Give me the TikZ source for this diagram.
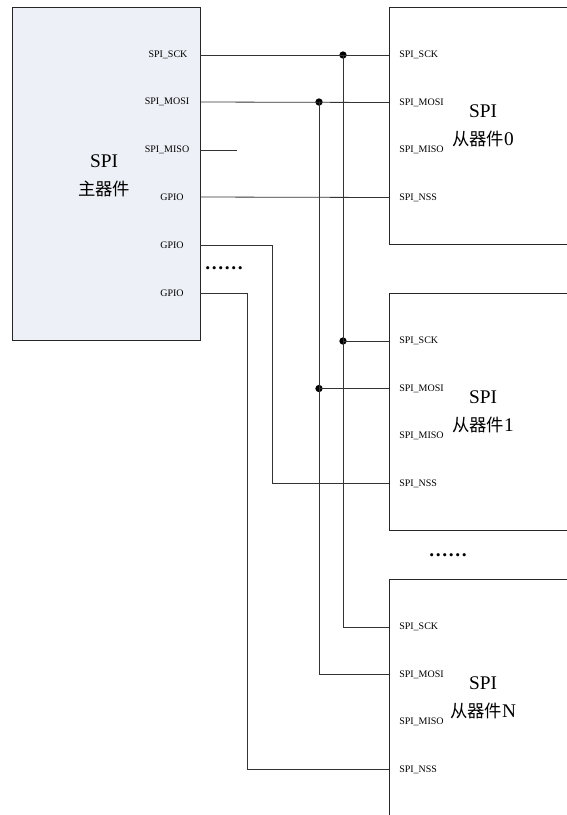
\documentclass[tikz,border=0pt]{standalone}
\usepackage{fontspec}
\setmainfont{Liberation Serif}
\newfontfamily\cjkfont{Noto Sans CJK SC}
\usetikzlibrary{positioning}

\definecolor{masterfill}{RGB}{237,240,246}

\begin{document}
\begin{tikzpicture}[
    x=0.75pt, y=-0.75pt,
    every node/.style={font=\fontsize{7.5pt}{9pt}\selectfont},
    chip/.style={rectangle, draw=black!85, line width=0.6pt, inner sep=0pt, anchor=north west},
    pinlabel/.style={inner sep=0pt},
    title/.style={font=\fontsize{14.5pt}{21pt}\selectfont, align=center},
    dots/.style={font=\fontsize{14.5pt}{17pt}\selectfont\bfseries, inner sep=0pt},
    wire/.style={draw=black!80, line width=0.6pt},
    junction/.style={circle, fill=black, inner sep=0pt, minimum size=5.5pt}
]
    \useasboundingbox (0,0) rectangle (567,815);
    \clip (0,0) rectangle (567,815);

    % master device
    \node (master) [chip, fill=masterfill, minimum width=141pt, minimum height=249.75pt] at (12,7) {};
    \node (master-title) [title] at (104,176) {SPI\\{\cjkfont\fontsize{13pt}{21pt}\selectfont 主器件}};
    \foreach \p/\y/\lx/\txt in {sck/55/168/SPI\_SCK, mosi/102/167/SPI\_MOSI, miso/150/167/SPI\_MISO,
                                gpio0/197/172/GPIO, gpio1/245/172/GPIO, gpio2/293/172/GPIO} {
        \coordinate (master-\p) at (200,\y);
        \node (master-\p-lab) [pinlabel] at (\lx,\y) {\txt};
    }
    \coordinate (miso-end) at (237,150);
    \node (master-dots) [dots] at (224,268) {……};

    % slave devices
    \foreach \s/\top in {0/7, 1/293, N/579} {
        \node (slave\s) [chip, minimum width=150pt, minimum height=178pt] at (389,\top) {};
        \node (slave\s-title) [title] at (483,\top+119) {SPI\\{\cjkfont\fontsize{13pt}{21pt}\selectfont 从器件}\s};
        \foreach \p/\dy/\txt in {sck/48/SPI\_SCK, mosi/95.5/SPI\_MOSI, miso/143/SPI\_MISO, nss/190.5/SPI\_NSS} {
            \coordinate (slave\s-\p) at (389,\top+\dy);
            \node (slave\s-\p-lab) [pinlabel, anchor=west] at (399,\top+\dy) {\txt};
        }
    }
    \node (slave-dots) [dots] at (448,555) {……};

    % bus junctions
    \node (j-sck0) [junction] at (343,55) {};
    \node (j-mosi0) [junction] at (319,102) {};
    \node (j-sck1) [junction] at (j-sck0 |- slave1-sck) {};
    \node (j-mosi1) [junction] at (j-mosi0 |- slave1-mosi) {};

    % wires
    \draw [wire] (master-sck) -- (slave0-sck);
    \draw [wire] (master-mosi) -- (slave0-mosi);
    \draw [wire] (master-miso) -- (miso-end);
    \draw [wire] (master-gpio0) -- (slave0-nss);
    \draw [wire] (master-gpio1) -- ++(72,0) |- (slave1-nss);
    \draw [wire] (master-gpio2) -- ++(47,0) |- (slaveN-nss);
    \draw [wire] (j-sck0.center) |- (slaveN-sck);
    \draw [wire] (j-mosi0.center) |- (slaveN-mosi);
    \draw [wire] (j-sck1.center) -- (slave1-sck);
    \draw [wire] (j-mosi1.center) -- (slave1-mosi);
\end{tikzpicture}
\end{document}
